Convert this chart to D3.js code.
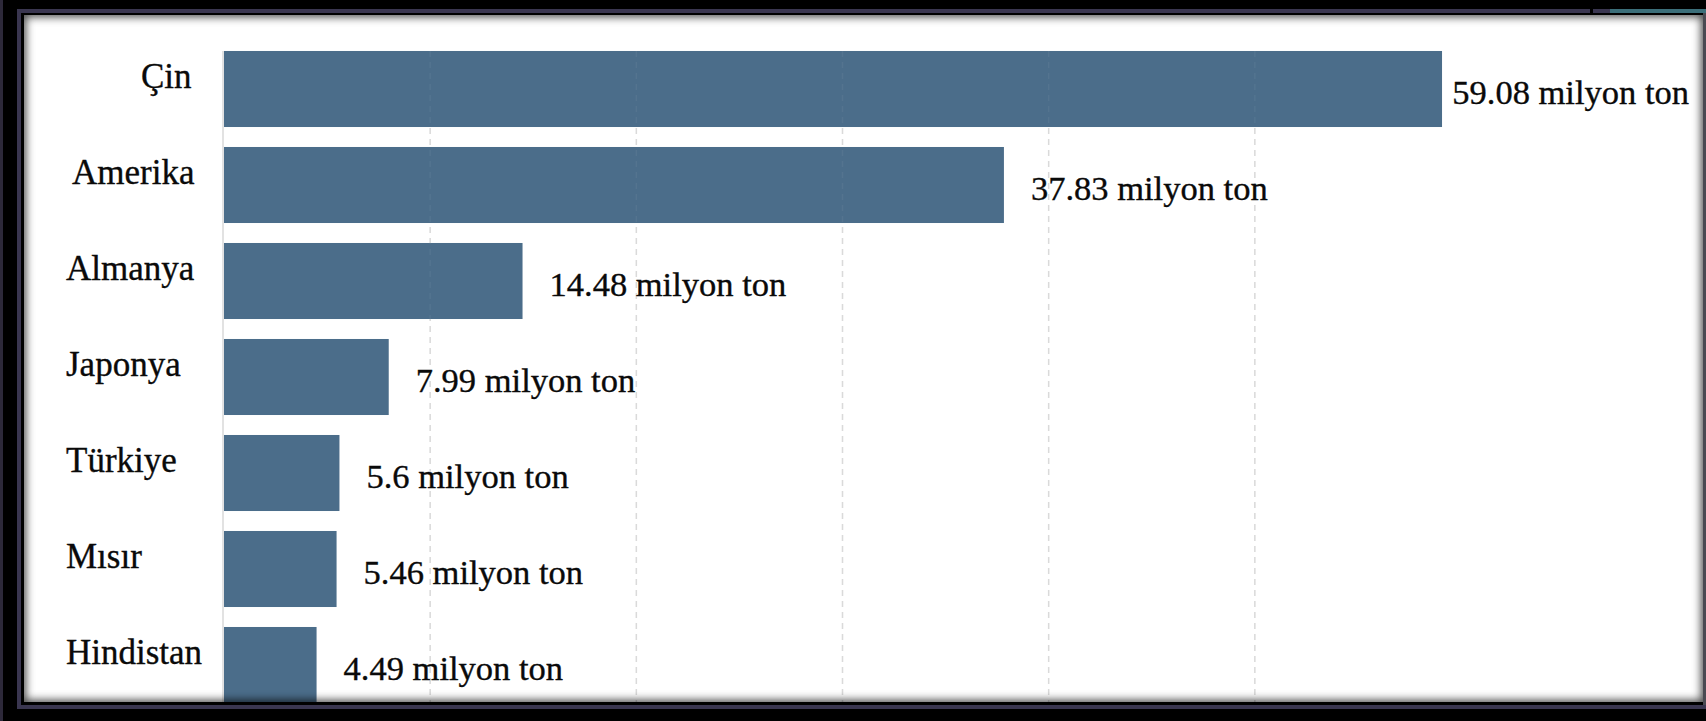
<!DOCTYPE html>
<html>
<head>
<meta charset="utf-8">
<script src="https://cdn.jsdelivr.net/npm/d3@7"></script>
<style>
  html, body { margin: 0; padding: 0; background: #000; }
  #wrap { position: relative; width: 1706px; height: 721px; overflow: hidden; }
  #chart { position: absolute; left: 0; top: 0; }
  #shade {
    position: absolute; left: 24px; top: 15px; width: 1679px; height: 687px;
    box-shadow: inset 0 0 8px 2px rgba(0,0,0,0.72);
    pointer-events: none;
  }
</style>
</head>
<body>
<div id="wrap">
  <svg id="chart" width="1706" height="721"></svg>
  <div id="shade"></div>
</div>
<script>
// Production by country (million tonnes)
const countries = ["Çin", "Amerika", "Almanya", "Japonya", "Türkiye", "Mısır", "Hindistan"];
const production = [59.08, 37.83, 14.48, 7.99, 5.6, 5.46, 4.49];
const unitLabel = "milyon ton";
const gridTicks = [10, 20, 30, 40, 50];

// Layout
const W = 1706, H = 721;
const panel = { x: 24, y: 15, w: 1679, h: 687 };
const labelX = 66;
const labelNudge = { "Çin": 75, "Amerika": 6 };
const serif = "'Liberation Serif', 'Times New Roman', Times, serif";
const barColor = "#4b6d8a";

const rows = countries.map((c, i) => ({ country: c, value: production[i] }));

const svg = d3.select("#chart");

// Window frame around the panel
svg.append("rect").attr("x", 0).attr("y", 0).attr("width", W).attr("height", H).attr("fill", "#000");
svg.append("rect").attr("x", 0).attr("y", 0).attr("width", 3).attr("height", H).attr("fill", "#2d293a");
svg.append("rect").attr("x", 17).attr("y", 9).attr("width", 4).attr("height", 700).attr("fill", "#3a3650");
svg.append("rect").attr("x", 17).attr("y", 9).attr("width", 1573).attr("height", 4).attr("fill", "#3a3650");
svg.append("rect").attr("x", 1593).attr("y", 9).attr("width", 17).attr("height", 4).attr("fill", "#3a3650");
svg.append("rect").attr("x", 1610).attr("y", 9).attr("width", 96).attr("height", 4).attr("fill", "#3b6e79");
svg.append("rect").attr("x", 17).attr("y", 705).attr("width", W - 17).attr("height", 4).attr("fill", "#3a3650");
svg.append("rect").attr("x", 1703).attr("y", 13).attr("width", 3).attr("height", 692).attr("fill", "#4a4a52");

// White panel
svg.append("rect")
  .attr("x", panel.x).attr("y", panel.y)
  .attr("width", panel.w).attr("height", panel.h)
  .attr("fill", "#fff");

svg.append("defs").append("clipPath").attr("id", "panelClip")
  .append("rect")
  .attr("x", panel.x).attr("y", panel.y)
  .attr("width", panel.w).attr("height", panel.h);

const g = svg.append("g").attr("clip-path", "url(#panelClip)");

// Scales
const x = d3.scaleLinear().domain([0, 60]).range([224, 1461]);
const y = d3.scaleBand()
  .domain(countries)
  .range([41, 41 + 96 * countries.length])
  .paddingInner(0.208)
  .paddingOuter(0.104);

const gridTop = y(countries[0]);
const gridBottom = panel.y + panel.h;

// Dashed vertical grid
const grid = g.append("g").attr("class", "grid");
grid.selectAll("line")
  .data(gridTicks)
  .join("line")
  .attr("x1", d => x(d)).attr("x2", d => x(d))
  .attr("y1", gridTop).attr("y2", gridBottom)
  .attr("stroke", "#d8d8d8")
  .attr("stroke-width", 1.5)
  .attr("stroke-dasharray", "6 5");

// Zero baseline
g.append("line")
  .attr("x1", x(0) - 1).attr("x2", x(0) - 1)
  .attr("y1", gridTop).attr("y2", gridBottom)
  .attr("stroke", "#e2e2e2")
  .attr("stroke-width", 2);

// Bars
g.append("g").selectAll("rect")
  .data(rows)
  .join("rect")
  .attr("x", x(0))
  .attr("y", d => y(d.country))
  .attr("width", d => x(d.value) - x(0))
  .attr("height", y.bandwidth())
  .attr("fill", barColor);

// Faint grid showing through the bars
g.append("g").selectAll("line")
  .data(gridTicks)
  .join("line")
  .attr("x1", d => x(d)).attr("x2", d => x(d))
  .attr("y1", gridTop).attr("y2", gridBottom)
  .attr("stroke", "#ffffff")
  .attr("stroke-opacity", 0.05)
  .attr("stroke-width", 1.5)
  .attr("stroke-dasharray", "6 5");

// Category labels
g.append("g").selectAll("text")
  .data(rows)
  .join("text")
  .attr("x", d => labelX + (labelNudge[d.country] || 0))
  .attr("y", d => y(d.country) + y.bandwidth() / 2 - 1)
  .attr("font-family", serif)
  .attr("font-size", 35)
  .attr("fill", "#0a0a0a")
  .attr("stroke", "#0a0a0a")
  .attr("stroke-width", 0.35)
  .text(d => d.country);

// Value labels, kept inside the panel
const limitRight = panel.x + panel.w - 14;
g.append("g").selectAll("text")
  .data(rows)
  .join("text")
  .attr("y", d => y(d.country) + y.bandwidth() / 2 + 15)
  .attr("font-family", serif)
  .attr("font-size", 34.5)
  .attr("fill", "#0a0a0a")
  .attr("stroke", "#0a0a0a")
  .attr("stroke-width", 0.35)
  .text(d => `${d.value} ${unitLabel}`)
  .attr("x", function (d) {
    const w = this.getComputedTextLength();
    return Math.min(x(d.value) + 27, limitRight - w);
  });
</script>
</body>
</html>
